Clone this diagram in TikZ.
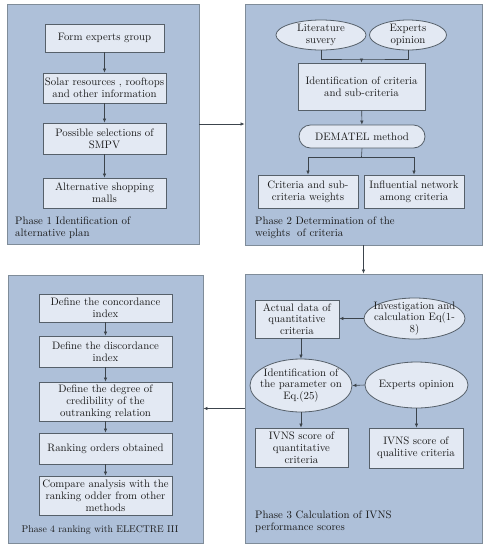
\documentclass[tikz,border=0pt]{standalone}
\usetikzlibrary{shapes.geometric,arrows.meta}
\definecolor{panelfill}{HTML}{AEC0D9}
\definecolor{paneldraw}{HTML}{7F8C99}
\definecolor{boxfill}{HTML}{E3E9F3}
\definecolor{boxdraw}{HTML}{56606A}
\definecolor{linec}{HTML}{3C444C}
\definecolor{txt}{HTML}{1A1A1A}
\tikzset{
  every node/.style={text=txt},
  panel/.style={draw=paneldraw, line width=0.9pt, fill=panelfill, rectangle, inner sep=0pt},
  box/.style={draw=boxdraw, line width=0.8pt, fill=boxfill, rectangle, inner sep=1pt, align=center, font=\fontsize{10.8}{11.8}\selectfont},
  ell/.style={draw=boxdraw, line width=0.8pt, fill=boxfill, ellipse, inner sep=0pt},
  ltxt/.style={align=center, font=\fontsize{10.8}{11.8}\selectfont},
  plabel/.style={align=left, anchor=north west, inner sep=0pt, font=\fontsize{10.8}{11.8}\selectfont},
  conn/.style={draw=linec, line width=0.6pt},
  arr/.style={conn, -{Latex[length=4pt,width=3.5pt]}},
}
\begin{document}
\begin{tikzpicture}[x=1pt,y=-1pt]
\useasboundingbox (0,0) rectangle (490,550);
% panels
\node[panel, minimum width=192pt, minimum height=240pt] (p1) at (103,124) {};
\node[panel, minimum width=237pt, minimum height=241pt] (p2) at (363.5,124.5) {};
\node[panel, minimum width=237pt, minimum height=269pt] (p3) at (363.5,408.5) {};
\node[panel, minimum width=195pt, minimum height=268pt] (p4) at (105.5,409) {};
% phase 1
\node[box, minimum width=119pt, minimum height=28pt] (b1) at (104.5,38) {Form experts group};
\node[box, minimum width=123pt, minimum height=30pt] (b2) at (104.5,88) {Solar resources , rooftops\\and other information};
\node[box, minimum width=123pt, minimum height=31pt] (b3) at (104.5,138.5) {Possible selections of\\SMPV};
\node[box, minimum width=123pt, minimum height=30pt] (b4) at (104.5,193) {Alternative shopping\\malls};
\draw[arr] (b1) -- (b2);
\draw[arr] (b2) -- (b3);
\draw[arr] (b3) -- (b4);
\node[plabel] (l1) at (15,217) {Phase 1 Identification of\\alternative plan};
% phase 2
\node[ell, minimum width=90pt, minimum height=30pt, label={[ltxt]center:Literature\\suvery}] (e1) at (321,35) {};
\node[ell, minimum width=77pt, minimum height=30pt, label={[ltxt]center:Experts\\opinion}] (e2) at (408,35) {};
\node[box, minimum width=127pt, minimum height=47pt] (b5) at (361.5,86.5) {Identification of criteria\\and sub-criteria};
\node[box, minimum width=126pt, minimum height=23pt, rounded corners=11.5pt] (dm) at (362,136.5) {DEMATEL method};
\node[box, minimum width=100pt, minimum height=33pt] (b6) at (308,191.5) {Criteria and sub-\\criteria weights};
\node[box, minimum width=100pt, minimum height=33pt] (b7) at (414,191.5) {Influential network\\among criteria};
\coordinate (j1) at (361.5,59);
\coordinate (j2) at (361.5,157);
\draw[conn] (e1.south) |- (j1) -| (e2.south);
\draw[arr] (j1) -- (b5.north);
\draw[arr] (b5) -- (dm);
\draw[conn] (dm.south) -- (j2);
\draw[arr] (j2) -| (b6.north);
\draw[arr] (j2) -| (b7.north);
\node[plabel] (l2) at (255,217) {Phase 2 Determination of the\\weights\ \ of criteria};
% phase 3
\node[box, minimum width=84pt, minimum height=38pt] (a1) at (297,319) {Actual data of\\quantitative\\criteria};
\node[ell, minimum width=101pt, minimum height=41pt, label={[ltxt]center:Investigation and\\calculation Eq(1-\\8)}] (ea) at (414.5,318.5) {};
\node[ell, minimum width=102pt, minimum height=53pt, label={[ltxt]center:Identification of\\the parameter on\\Eq.(25)}] (ei) at (301,385.5) {};
\node[ell, minimum width=103pt, minimum height=46pt, label={[ltxt]center:Experts opinion}] (eo) at (416.5,385) {};
\node[box, minimum width=93pt, minimum height=39pt] (q1) at (301.5,447.5) {IVNS score of\\quantitative\\criteria};
\node[box, minimum width=94pt, minimum height=40pt] (q2) at (416,448) {IVNS score of\\qualitive criteria};
\draw[arr] (ea.west) -- (ea.west -| a1.east);
\draw[arr] (ei.north |- a1.south) -- (ei.north);
\draw[arr] (eo.west) -- (ei.east);
\draw[arr] (ei.south) -- (ei.south |- q1.north);
\draw[arr] (eo.south) -- (eo.south |- q2.north);
\node[plabel] (l3) at (255,511) {Phase 3 Calculation of IVNS\\performance scores};
% phase 4
\node[box, minimum width=133pt, minimum height=28pt] (c1) at (105.5,308) {Define the concordance\\index};
\node[box, minimum width=133pt, minimum height=31pt] (c2) at (105.5,351.5) {Define the discordance\\index};
\node[box, minimum width=133pt, minimum height=39pt] (c3) at (105.5,401.5) {Define the degree of\\credibility of the\\outranking relation};
\node[box, minimum width=133pt, minimum height=31pt] (c4) at (105.5,448.5) {Ranking orders obtained};
\node[box, minimum width=133pt, minimum height=39pt] (c5) at (105.5,495.5) {Compare analysis with the\\ranking odder from other\\methods};
\draw[arr] (c1) -- (c2);
\draw[arr] (c2) -- (c3);
\draw[arr] (c3) -- (c4);
\draw[arr] (c4) -- (c5);
\node[align=center, font=\fontsize{9.8}{11}\selectfont] (l4) at (100,530) {Phase 4 ranking with ELECTRE III};
% phase connectors
\draw[arr] (p1.east) -- (p1.east -| p2.west);
\draw[arr] (p2.south) -- (p3.north);
\draw[arr] (p3.west) -- (p3.west -| p4.east);
\end{tikzpicture}
\end{document}
